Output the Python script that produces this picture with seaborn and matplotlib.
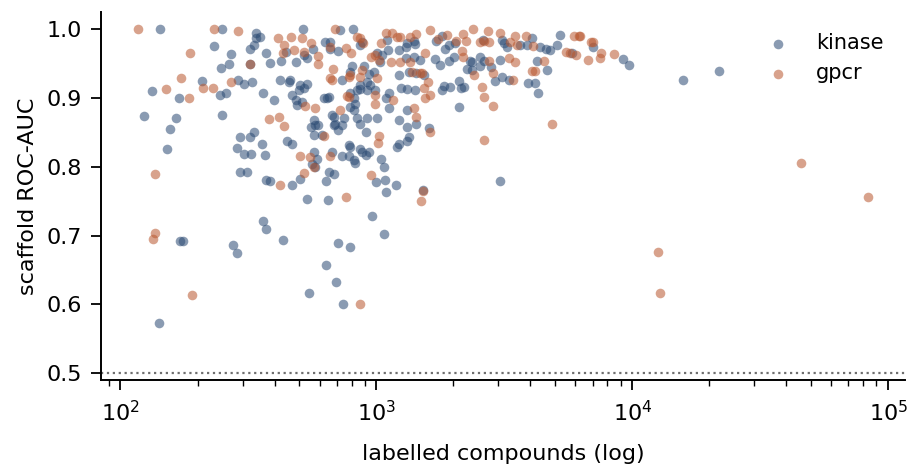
import pandas as pd
import matplotlib
matplotlib.use('Agg')
import matplotlib.pyplot as plt
import seaborn as sns

# kinase targets: labelled compounds, scaffold ROC-AUC
kinase_n = [143, 249, 338, 340, 231, 270, 320, 332, 265, 247, 322, 209, 288, 305, 328, 133, 244, 258, 170,
            123, 165, 249, 156, 332, 294, 322, 152, 286, 303, 324, 292, 312, 361, 371, 171, 175, 276, 286,
            142, 545, 693, 738, 15850, 21900, 9200, 9730, 7020, 4060, 5200, 1800, 1705, 2030, 2610, 3090,
            3140, 3240, 3650, 3880, 4370, 4610, 4790, 5100, 5810, 1862, 1930, 1480, 2003, 1930, 2330, 2365,
            2546, 2630, 3050, 4240, 1700, 1778, 1540, 2260, 2366, 2546, 2807, 2917, 3090, 3300, 3910, 4180,
            4270, 4650, 1832, 1806, 1945, 2096, 2140, 2207, 2110, 1600, 3040, 1515, 518, 722, 811, 442, 520,
            372, 385, 425, 487, 535, 565, 631, 657, 657, 711, 866, 880, 1005, 1051, 1106, 1037, 1100, 1222,
            1318, 1306, 1400, 1420, 1300, 1403, 1222, 1336, 1433, 1420, 1318, 1250, 1318, 1433, 1336, 734,
            791, 806, 892, 932, 976, 918, 866, 866, 945, 840, 791, 815, 828, 791, 815, 744, 686, 680, 670,
            692, 710, 734, 569, 556, 578, 589, 612, 569, 641, 623, 651, 483, 512, 490, 468, 497, 504, 520,
            535, 422, 454, 458, 362, 397, 352, 1005, 1117, 1117, 1094, 913, 866, 1222, 1318, 840, 922, 918,
            991, 448, 468, 368, 357, 573, 587, 561, 578, 504, 468, 372, 383, 651, 686, 638, 670, 734, 780,
            815, 828, 780, 791, 860, 913, 932, 880, 1205, 1222, 1318, 1044, 1068, 1000, 1076, 1094, 1190,
            538, 645, 960, 1068, 432, 707, 786, 638]
kinase_auc = [1.000, 1.000, 0.994, 0.987, 0.976, 0.964, 0.972, 0.977, 0.949, 0.944, 0.949, 0.925, 0.927,
              0.921, 0.923, 0.911, 0.905, 0.908, 0.900, 0.874, 0.871, 0.875, 0.855, 0.851, 0.844, 0.844,
              0.826, 0.828, 0.819, 0.819, 0.792, 0.792, 0.721, 0.710, 0.692, 0.693, 0.686, 0.675, 0.573,
              0.617, 0.632, 0.600, 0.927, 0.939, 0.957, 0.948, 0.974, 0.988, 0.992, 0.990, 0.983, 0.980,
              0.984, 0.984, 0.980, 0.975, 0.977, 0.977, 0.975, 0.971, 0.970, 0.977, 0.965, 0.971, 0.977,
              0.955, 0.960, 0.954, 0.954, 0.953, 0.960, 0.954, 0.955, 0.954, 0.957, 0.948, 0.934, 0.942,
              0.941, 0.947, 0.945, 0.925, 0.930, 0.926, 0.922, 0.922, 0.907, 0.941, 0.918, 0.912, 0.916,
              0.925, 0.914, 0.916, 0.887, 0.857, 0.780, 0.766, 1.000, 0.999, 1.000, 0.967, 0.963, 0.965,
              0.951, 0.954, 0.952, 0.958, 0.971, 0.982, 0.982, 0.971, 0.969, 0.977, 0.982, 0.965, 0.963,
              0.970, 0.953, 0.984, 0.970, 0.980, 0.975, 0.983, 0.979, 0.958, 0.960, 0.934, 0.938, 0.936,
              0.912, 0.913, 0.914, 0.858, 0.862, 0.844, 0.926, 0.938, 0.946, 0.946, 0.935, 0.938, 0.924,
              0.919, 0.913, 0.919, 0.912, 0.907, 0.900, 0.892, 0.887, 0.883, 0.871, 0.873, 0.861, 0.875,
              0.863, 0.854, 0.861, 0.868, 0.858, 0.861, 0.861, 0.846, 0.846, 0.900, 0.900, 0.901, 0.897,
              0.895, 0.890, 0.905, 0.912, 0.919, 0.914, 0.921, 0.926, 0.924, 0.926, 0.907, 0.897, 0.989,
              0.871, 0.885, 0.907, 0.900, 0.851, 0.863, 0.868, 0.883, 0.871, 0.871, 0.912, 0.912, 0.837,
              0.834, 0.817, 0.834, 0.822, 0.812, 0.804, 0.800, 0.782, 0.774, 0.781, 0.780, 0.793, 0.790,
              0.780, 0.821, 0.816, 0.816, 0.810, 0.806, 0.832, 0.829, 0.826, 0.817, 0.822, 0.822, 0.829,
              0.833, 0.837, 0.811, 0.800, 0.778, 0.781, 0.764, 0.774, 0.753, 0.752, 0.729, 0.703, 0.694,
              0.690, 0.684, 0.657]

# gpcr targets
gpcr_n = [117, 231, 287, 187, 322, 172, 270, 151, 211, 230, 186, 137, 136, 134, 191, 866, 12850, 12560,
          45800, 83600, 8450, 7570, 7500, 6740, 6870, 7040, 6270, 1615, 2388, 2738, 3050, 3490, 3855, 5900,
          6170, 1742, 1888, 2054, 2190, 2245, 2550, 2625, 2746, 3333, 3545, 4110, 5520, 5690, 6010, 1553,
          2160, 2178, 2760, 3290, 3490, 4530, 1508, 1585, 2398, 2853, 3418, 4060, 4180, 1540, 1553, 1620,
          2590, 2625, 2853, 4870, 1626, 2625, 1480, 1515, 1490, 692, 411, 464, 513, 553, 437, 432, 476,
          520, 589, 589, 660, 764, 796, 840, 866, 887, 949, 991, 1021, 1141, 1044, 1094, 1151, 1205, 1241,
          1350, 1433, 1235, 1350, 1380, 1403, 1433, 677, 660, 670, 780, 791, 866, 880, 1005, 768, 780, 722,
          578, 528, 991, 991, 1164, 380, 415, 434, 623, 1021, 501, 549, 569, 520, 419, 660, 1011, 953, 764]
gpcr_auc = [1.000, 1.000, 0.998, 0.966, 0.950, 0.929, 0.924, 0.913, 0.914, 0.914, 0.900, 0.789, 0.704,
            0.695, 0.614, 0.600, 0.617, 0.676, 0.806, 0.756, 0.964, 0.965, 0.959, 0.955, 0.982, 0.981,
            0.990, 0.999, 1.000, 0.998, 0.995, 0.990, 0.990, 0.990, 0.990, 0.986, 0.992, 0.983, 0.993,
            0.983, 0.981, 0.983, 0.982, 0.981, 0.977, 0.976, 0.967, 0.965, 0.963, 0.965, 0.968, 0.960,
            0.954, 0.958, 0.953, 0.954, 0.936, 0.924, 0.934, 0.937, 0.926, 0.940, 0.940, 0.914, 0.900,
            0.904, 0.916, 0.901, 0.889, 0.862, 0.851, 0.839, 0.937, 0.765, 0.750, 1.000, 0.987, 0.989,
            0.987, 0.980, 0.977, 0.966, 0.970, 0.967, 0.961, 0.950, 0.975, 0.973, 0.965, 0.989, 0.987,
            0.980, 0.960, 0.963, 0.955, 0.953, 0.980, 0.994, 0.995, 0.989, 0.989, 0.989, 0.993, 0.953,
            0.953, 0.938, 0.885, 0.872, 0.943, 0.929, 0.926, 0.931, 0.934, 0.931, 0.941, 0.929, 0.903,
            0.902, 0.883, 0.885, 0.889, 0.904, 0.892, 0.897, 0.870, 0.873, 0.860, 0.845, 0.845, 0.816,
            0.814, 0.800, 0.791, 0.774, 0.816, 0.835, 0.788, 0.756]

df = pd.concat([
    pd.DataFrame({'n': kinase_n, 'auc': kinase_auc, 'family': 'kinase'}),
    pd.DataFrame({'n': gpcr_n, 'auc': gpcr_auc, 'family': 'gpcr'}),
])

sns.set_style('ticks', {'text.color': 'black', 'axes.labelcolor': 'black',
                        'xtick.color': 'black', 'ytick.color': 'black',
                        'axes.edgecolor': 'black'})
plt.rcParams['font.family'] = ['DejaVu Sans']

fig, ax = plt.subplots(figsize=(9.11, 4.67), dpi=100)
fig.subplots_adjust(left=0.111, right=0.993, bottom=0.186, top=0.974)

colors = {'kinase': '#2b4a73', 'gpcr': '#b8562e'}
for fam in ['kinase', 'gpcr']:
    sub = df[df['family'] == fam]
    sns.scatterplot(data=sub, x='n', y='auc', color=colors[fam], alpha=0.55, s=48,
                    linewidth=0, label=fam, ax=ax)

ax.axhline(0.5, color='#6f6f6f', linestyle=':', linewidth=1.6, zorder=0)

ax.set_xscale('log')
ax.set_xlim(84, 1.16e5)
ax.set_ylim(0.49, 1.025)
ax.set_yticks([0.5, 0.6, 0.7, 0.8, 0.9, 1.0])
ax.set_xlabel('labelled compounds (log)', fontsize=16, labelpad=14)
ax.set_ylabel('scaffold ROC-AUC', fontsize=16, labelpad=6)
ax.tick_params(axis='both', which='major', labelsize=16, length=7, width=1.3, pad=7)
ax.tick_params(axis='x', which='minor', length=4, width=1.0)
for sp in ['left', 'bottom']:
    ax.spines[sp].set_linewidth(1.4)
sns.despine(ax=ax)

ax.legend(frameon=False, loc='upper right', fontsize=15, markerscale=1.0,
          handletextpad=0.85, borderaxespad=0.6)

plt.savefig('out.png', dpi=100)
